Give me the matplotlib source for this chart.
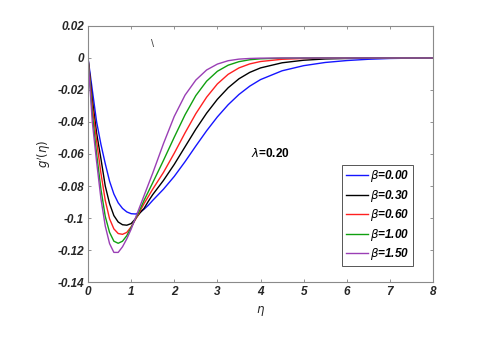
import matplotlib
matplotlib.use("Agg")
import matplotlib.pyplot as plt

# similarity variable
eta = [0, 0.1, 0.2, 0.3, 0.4, 0.5, 0.6, 0.7, 0.8, 0.9, 1.0, 1.1, 1.2, 1.3, 1.4, 1.5,
       1.75, 2.0, 2.25, 2.5, 2.75, 3.0, 3.25, 3.5, 3.75, 4.0, 4.5, 5.0, 5.5, 6.0, 6.5, 7.0, 7.5, 8.0]

# g'(eta), one list per beta
g_b000 = [0, -0.020, -0.040, -0.054, -0.066, -0.077, -0.085, -0.0905, -0.094, -0.0962, -0.0973,
          -0.0975, -0.0965, -0.0945, -0.092, -0.0890, -0.0820, -0.0740, -0.0648, -0.0550, -0.0455,
          -0.0368, -0.0292, -0.0228, -0.0176, -0.0135, -0.0080, -0.0048, -0.0028, -0.0016, -0.0008,
          -0.0003, -0.0001, 0]
g_b030 = [0, -0.026, -0.047, -0.063, -0.080, -0.091, -0.0985, -0.1025, -0.1042, -0.1045, -0.1035,
          -0.1005, -0.097, -0.094, -0.0895, -0.0854, -0.0765, -0.0665, -0.0555, -0.0445, -0.0345,
          -0.0258, -0.0186, -0.0130, -0.0090, -0.0062, -0.0030, -0.0014, -0.0006, -0.0003, -0.0001,
          0, 0, 0]
g_b060 = [0, -0.030, -0.052, -0.072, -0.089, -0.1005, -0.1068, -0.1097, -0.1102, -0.109, -0.1055,
          -0.101, -0.096, -0.091, -0.0865, -0.082, -0.0715, -0.0595, -0.0468, -0.0348, -0.0245,
          -0.0162, -0.0102, -0.0062, -0.0037, -0.0022, -0.0008, -0.0003, -0.0001, 0, 0, 0, 0, 0]
g_b100 = [0, -0.035, -0.060, -0.082, -0.099, -0.109, -0.1145, -0.1158, -0.1145, -0.111, -0.106,
          -0.1005, -0.095, -0.089, -0.0835, -0.078, -0.064, -0.0495, -0.0355, -0.0235, -0.0145,
          -0.0083, -0.0045, -0.0023, -0.0011, -0.0005, -0.0001, 0, 0, 0, 0, 0, 0, 0]
g_b150 = [0, -0.040, -0.065, -0.088, -0.105, -0.116, -0.1215, -0.1215, -0.118, -0.113, -0.107,
          -0.100, -0.093, -0.086, -0.079, -0.072, -0.0535, -0.0365, -0.0232, -0.0138, -0.0075,
          -0.0038, -0.0017, -0.0007, -0.0003, -0.0001, 0, 0, 0, 0, 0, 0, 0, 0]

series = [g_b000, g_b030, g_b060, g_b100, g_b150]
labels = ["0.00", "0.30", "0.60", "1.00", "1.50"]
colors = ["#1515ff", "#000000", "#ff2020", "#10a010", "#9a3fb5"]

xticks = [0, 1, 2, 3, 4, 5, 6, 7, 8]
yticks = [0.02, 0, -0.02, -0.04, -0.06, -0.08, -0.1, -0.12, -0.14]
ytick_labels = ["0.02", "0", "-0.02", "-0.04", "-0.06", "-0.08", "-0.1", "-0.12", "-0.14"]

plt.rcParams["font.family"] = ["Liberation Sans", "DejaVu Sans"]

fig = plt.figure(figsize=(5.02, 3.47), dpi=100)
ax = fig.add_axes([0.1753, 0.1873, 0.6873, 0.7378])

for g, lab, c in zip(series, labels, colors):
    ax.plot(eta, g, color=c, lw=1.0, label=r"$\beta$=" + lab)

ax.set_xlim(0, 8)
ax.set_ylim(-0.14, 0.02)
ax.set_xticks(xticks)
ax.set_xticklabels([str(t) for t in xticks])
ax.set_yticks(yticks)
ax.set_yticklabels(ytick_labels)
ax.tick_params(direction="in", length=2.5, width=0.6, color="#808080",
               top=True, right=True, labelsize=8.5, labelcolor="#262626", pad=3)
for lab in ax.get_xticklabels() + ax.get_yticklabels():
    lab.set_fontweight("bold")
    lab.set_fontstyle("italic")
for s in ax.spines.values():
    s.set_color("#8a8a8a")
    s.set_linewidth(0.8)

ax.set_xlabel(r"$\eta$", fontsize=8.5, color="#262626", labelpad=4)
ax.set_ylabel(r"$g'(\eta)$", fontsize=8.5, color="#262626", labelpad=3)

ax.text(3.77, -0.060, r"$\lambda$=0.20", fontsize=8.5, fontweight="bold", va="center", ha="left")
ax.text(1.5, 0.0085, "\\", fontsize=8, color="#444444", ha="center", va="center")

leg = ax.legend(loc="lower right", bbox_to_anchor=(0.942, 0.0625), borderaxespad=0,
                fontsize=8.5, handlelength=1.9, handletextpad=0.2, borderpad=0.3,
                labelspacing=0.3, frameon=True, fancybox=False, edgecolor="#555555",
                framealpha=1)
leg.get_frame().set_linewidth(0.7)
for t in leg.get_texts():
    t.set_fontweight("bold")
    t.set_fontstyle("italic")

fig.savefig("out.png", dpi=100)
